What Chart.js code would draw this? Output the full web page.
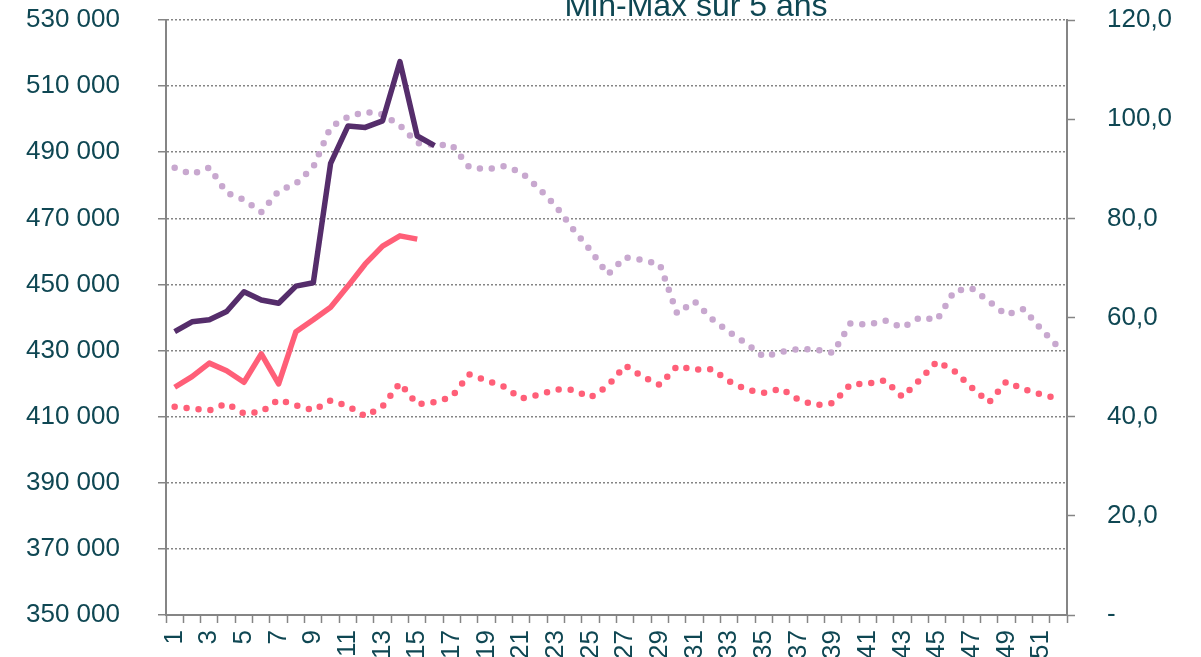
<!DOCTYPE html>
<html lang="fr">
<head>
<meta charset="utf-8">
<title>Min-Max sur 5 ans</title>
<script src="https://cdn.jsdelivr.net/npm/chart.js@4.4.1/dist/chart.umd.min.js"></script>
<style>
  html, body { margin: 0; padding: 0; background: #ffffff; overflow: hidden; }
  #zone { position: relative; width: 1201px; height: 657px; }
</style>
</head>
<body>
<div id="zone"><canvas id="graphique" width="1201" height="657"></canvas></div>
<script>
// Semaines de l'année
const semaines = ['1', '2', '3', '4', '5', '6', '7', '8', '9', '10', '11', '12', '13',
  '14', '15', '16', '17', '18', '19', '20', '21', '22', '23', '24', '25', '26',
  '27', '28', '29', '30', '31', '32', '33', '34', '35', '36', '37', '38', '39',
  '40', '41', '42', '43', '44', '45', '46', '47', '48', '49', '50', '51', '52'];

// Courbe violette (trait plein)
const serieViolette = [435700, 438700, 439300, 441800, 447800, 445300, 444300, 449500,
  450500, 486600, 497900, 497500, 499500, 517400, 494900, 492000];

// Courbe rose (trait plein)
const serieRose = [418900, 422100, 426200, 423900, 420400, 429000, 419900, 435700,
  439300, 443100, 449500, 456200, 461600, 464700, 463700];

// Max sur 5 ans (pointillés mauves)
const max5ans = [485300, 483300, 485400, 477700, 475600, 471900, 478300, 480500, 485500,
  497600, 500700, 502200, 501400, 498100, 492800, 492200, 492200, 485500, 484800, 485800,
  483900, 479200, 473700, 466700, 460300, 453000, 458200, 457400, 456100, 441200, 444900,
  439600, 435600, 432100, 428100, 429600, 430500, 430300, 429300, 438200, 437800, 439100,
  436900, 440000, 439300, 448000, 448800, 444900, 440800, 442600, 436500, 431100];

// Min sur 5 ans (pointillés roses)
const min5ans = [413000, 412400, 411900, 414000, 411000, 411400, 415200, 413400, 411900,
  414900, 413200, 410100, 413100, 420200, 413700, 414400, 416000, 422800, 420900, 419100,
  415500, 416600, 418200, 418100, 415800, 419300, 425500, 422100, 419600, 425300, 424200,
  424400, 420700, 418200, 417200, 418500, 415100, 413500, 414100, 419700, 420000, 421000,
  416000, 421100, 426700, 423800, 418800, 414300, 420600, 418300, 416700, 415500];

// Graduations des deux axes
const ticksGauche = [350000, 370000, 390000, 410000, 430000, 450000, 470000, 490000, 510000, 530000];
const ticksDroite = [0, 20, 40, 60, 80, 100, 120];

const titre = 'Min-Max sur 5 ans';
const couleurTexte = '#0f4753';
const gris = '#858585';
const police = { family: '"Liberation Sans", Arial, sans-serif', size: 26 };

function milliers(v) {
  return String(v).replace(/\B(?=(\d{3})+(?!\d))/g, ' ');
}

// Titre décalé, comme dans l'original
const pluginTitre = {
  id: 'titre',
  afterDraw(chart) {
    const ctx = chart.ctx;
    ctx.save();
    ctx.font = '32px "Liberation Sans", Arial, sans-serif';
    ctx.fillStyle = couleurTexte;
    ctx.textAlign = 'center';
    ctx.textBaseline = 'alphabetic';
    ctx.fillText(titre, 696, 16);
    ctx.restore();
  }
};

// largeur fixe des axes verticaux, sans marge haute/basse ajoutée par Chart.js
function axeVertical(largeur) {
  return (s) => {
    s.width = largeur;
    s.paddingTop = 0;
    s.paddingBottom = 0;
  };
}

const ctx = document.getElementById('graphique').getContext('2d');

new Chart(ctx, {
  type: 'line',
  data: {
    labels: semaines,
    datasets: [
      {
        label: 'Violet',
        data: serieViolette,
        borderColor: '#552d6b',
        borderWidth: 5.5,
        borderJoinStyle: 'round',
        pointRadius: 0,
        yAxisID: 'y'
      },
      {
        label: 'Rose',
        data: serieRose,
        borderColor: '#ff5f78',
        borderWidth: 5.5,
        borderJoinStyle: 'round',
        pointRadius: 0,
        yAxisID: 'y'
      },
      {
        label: 'Max 5 ans',
        data: max5ans,
        borderColor: '#c8a8cf',
        borderWidth: 6.5,
        borderDash: [0, 12],
        borderCapStyle: 'round',
        pointRadius: 0,
        yAxisID: 'y'
      },
      {
        label: 'Min 5 ans',
        data: min5ans,
        borderColor: '#ff5f78',
        borderWidth: 6.5,
        borderDash: [0, 12],
        borderCapStyle: 'round',
        pointRadius: 0,
        yAxisID: 'y'
      }
    ]
  },
  options: {
    responsive: false,
    animation: false,
    layout: { padding: { left: 25, right: 29, top: 20, bottom: 0 } },
    plugins: {
      legend: { display: false },
      title: { display: false },
      tooltip: { enabled: false }
    },
    scales: {
      x: {
        type: 'category',
        offset: true,
        grid: {
          drawOnChartArea: false,
          offset: true,
          tickLength: 8,
          tickColor: gris,
          tickWidth: 1.5
        },
        border: { color: gris, width: 2 },
        ticks: {
          autoSkip: false,
          minRotation: 90,
          maxRotation: 90,
          padding: 7,
          color: couleurTexte,
          font: police,
          callback: (v, i) => (i % 2 === 0 ? semaines[i] : '')
        },
        afterFit: (s) => { s.height = 42; }
      },
      y: {
        position: 'left',
        min: 350000,
        max: 530000,
        afterBuildTicks: (s) => { s.ticks = ticksGauche.map(v => ({ value: v })); },
        grid: {
          color: gris,
          lineWidth: 1.5,
          tickLength: 8,
          tickColor: gris,
          tickWidth: 1.5
        },
        border: { color: gris, width: 2, dash: [2, 2] },
        ticks: {
          padding: 38,
          color: couleurTexte,
          font: police,
          callback: (v) => milliers(v)
        },
        afterFit: axeVertical(141)
      },
      y1: {
        position: 'right',
        min: 0,
        max: 120,
        afterBuildTicks: (s) => { s.ticks = ticksDroite.map(v => ({ value: v })); },
        grid: {
          drawOnChartArea: false,
          tickLength: 8,
          tickColor: gris,
          tickWidth: 1.5
        },
        border: { color: gris, width: 2 },
        ticks: {
          padding: 32,
          color: couleurTexte,
          font: police,
          callback: (v) => (v === 0 ? '-' : v.toFixed(1).replace('.', ','))
        },
        afterFit: axeVertical(105)
      }
    }
  },
  plugins: [pluginTitre]
});
</script>
</body>
</html>
